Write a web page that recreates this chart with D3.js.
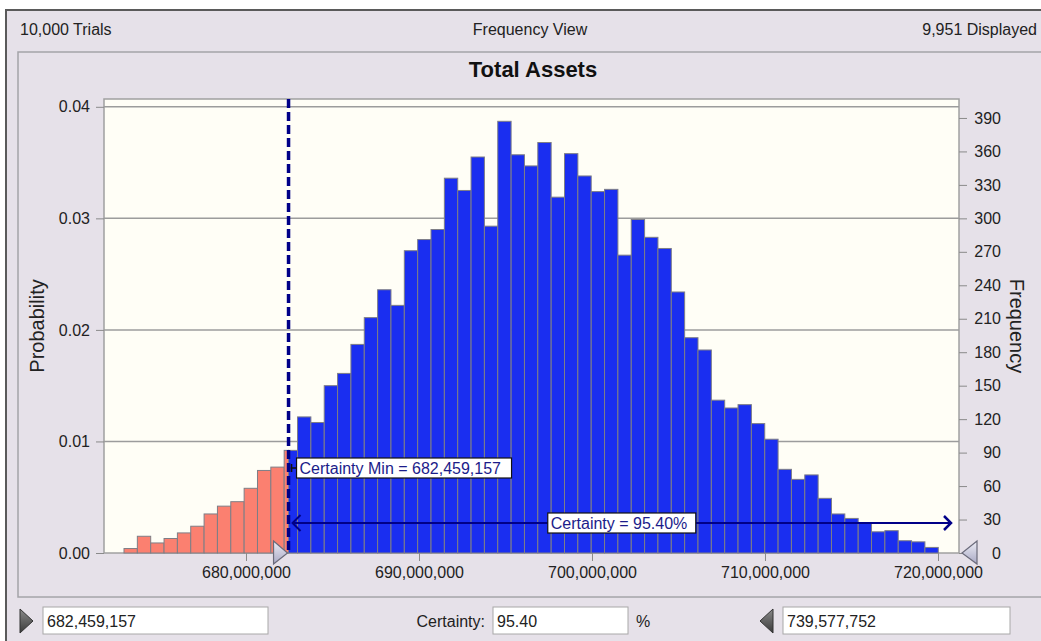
<!DOCTYPE html>
<html>
<head>
  <meta charset="utf-8">
  <title>Total Assets</title>
  <style>
    body { margin: 0; background: #fff; }
    svg { display: block; font-family: "Liberation Sans", Arial, sans-serif; }
    .tick text { font-size: 16px; fill: #222; }
    .tick line { stroke: #8a8a8a; }
    .lbl { font-size: 16px; fill: #222; }
  </style>
</head>
<body>
  <script src="https://d3js.org/d3.v7.min.js"></script>
  <script>
    // histogram: bin start, bin width, counts per bin
    const binStart = 672948000;
    const binWidth = 771600;
    const freqs = [4, 15, 9, 13, 18, 24, 35, 42, 46, 58, 74, 77,
      92, 122, 117, 150, 161, 187, 211, 236, 222, 271, 281, 290, 336, 325, 355, 293, 387, 357,
      347, 368, 319, 358, 338, 324, 326, 267, 299, 283, 273, 234, 193, 182, 137, 130, 133, 116,
      102, 75, 66, 70, 49, 35, 31, 27, 19, 20, 11, 10, 5];
    const xTicks = [680000000, 690000000, 700000000, 710000000, 720000000];
    const probTicks = [0, 0.01, 0.02, 0.03, 0.04];
    const freqTicks = [0, 30, 60, 90, 120, 150, 180, 210, 240, 270, 300, 330, 360, 390];
    const certaintyMin = 682459157;
    const certaintyMax = 739577752;
    const certainty = 95.40;
    const trials = 10000, displayed = 9951;

    const W = 1041, H = 641;
    const L = 104, R = 959, T = 99, B = 553;

    const svg = d3.select("body").append("svg").attr("width", W).attr("height", H);

    // window chrome
    svg.append("rect").attr("x", 6).attr("y", 10).attr("width", W).attr("height", H)
       .attr("fill", "#e6e1e9").attr("stroke", "#5a5a5a").attr("stroke-width", 2);
    svg.append("rect").attr("x", 18).attr("y", 52).attr("width", W).attr("height", 545)
       .attr("fill", "none").attr("stroke", "#a4a4a8").attr("stroke-width", 1.5);

    svg.append("text").attr("class", "lbl").attr("x", 20).attr("y", 35).text(d3.format(",")(trials) + " Trials");
    svg.append("text").attr("class", "lbl").attr("x", 530).attr("y", 35).attr("text-anchor", "middle").text("Frequency View");
    svg.append("text").attr("class", "lbl").attr("x", 1037).attr("y", 35).attr("text-anchor", "end").text(d3.format(",")(displayed) + " Displayed");

    svg.append("text").attr("x", 533).attr("y", 77).attr("text-anchor", "middle")
       .attr("font-size", 22).attr("font-weight", "bold").attr("fill", "#111").text("Total Assets");

    const x = d3.scaleLinear().domain([671792000, 721214000]).range([L, R]);
    const yP = d3.scaleLinear().domain([0, 0.0407]).range([B, T]);
    const yF = d3.scaleLinear().domain([0, 407]).range([B, T]);

    // plot area
    svg.append("rect").attr("x", L).attr("y", T).attr("width", R - L).attr("height", B - T)
       .attr("fill", "#fffef6").attr("stroke", "#a0a0a0").attr("stroke-width", 1.5);

    svg.append("g").selectAll("line").data(probTicks.filter(d => d > 0)).join("line")
       .attr("x1", L).attr("x2", R).attr("y1", d => yP(d)).attr("y2", d => yP(d))
       .attr("stroke", "#9c9c9c").attr("stroke-width", 1.5);

    // bars, split at certainty min
    const bins = freqs.map((f, i) => ({ x0: binStart + i * binWidth, x1: binStart + (i + 1) * binWidth, f }));
    const parts = [];
    bins.forEach(b => {
      if (b.x1 <= certaintyMin) parts.push({ a: b.x0, b: b.x1, f: b.f, red: true });
      else if (b.x0 >= certaintyMin) parts.push({ a: b.x0, b: b.x1, f: b.f, red: false });
      else {
        parts.push({ a: b.x0, b: certaintyMin, f: b.f, red: true });
        parts.push({ a: certaintyMin, b: b.x1, f: b.f, red: false });
      }
    });
    svg.append("g").selectAll("rect").data(parts).join("rect")
       .attr("x", d => x(d.a)).attr("width", d => x(d.b) - x(d.a))
       .attr("y", d => yF(d.f)).attr("height", d => B - yF(d.f))
       .attr("fill", d => d.red ? "#fb8070" : "#1a2ef0")
       .attr("stroke", "#7e7e86").attr("stroke-width", 1);

    // axes
    const gl = svg.append("g").attr("transform", `translate(${L},0)`)
       .call(d3.axisLeft(yP).tickValues(probTicks).tickFormat(d3.format(".2f")).tickSize(8).tickPadding(6));
    const gr = svg.append("g").attr("transform", `translate(${R},0)`)
       .call(d3.axisRight(yF).tickValues(freqTicks).tickSize(8).tickPadding(6));
    gr.selectAll(".tick text").attr("x", 42).attr("text-anchor", "end");
    const gb = svg.append("g").attr("transform", `translate(0,${B})`)
       .call(d3.axisBottom(x).tickValues(xTicks).tickFormat(d3.format(",")).tickSize(8).tickPadding(6));
    [gl, gr, gb].forEach(g => { g.select(".domain").remove(); g.attr("font-family", null).attr("font-size", null); });

    svg.append("text").attr("transform", "translate(44,326) rotate(-90)").attr("text-anchor", "middle")
       .attr("font-size", 20).attr("fill", "#222").text("Probability");
    svg.append("text").attr("transform", "translate(1010,326) rotate(90)").attr("text-anchor", "middle")
       .attr("font-size", 20).attr("fill", "#222").text("Frequency");

    // certainty markers
    const cx = x(certaintyMin);
    const navy = "#000088";
    svg.append("line").attr("x1", cx).attr("x2", cx).attr("y1", T).attr("y2", B)
       .attr("stroke", navy).attr("stroke-width", 3.5).attr("stroke-dasharray", "9,4");

    const ay = 523, ax0 = cx + 4, ax1 = R - 8;
    svg.append("line").attr("x1", ax0).attr("x2", ax1).attr("y1", ay).attr("y2", ay)
       .attr("stroke", navy).attr("stroke-width", 2);
    svg.append("path").attr("d", `M${ax0 + 8},${ay - 8}L${ax0},${ay}L${ax0 + 8},${ay + 8}`)
       .attr("fill", "none").attr("stroke", navy).attr("stroke-width", 2);
    svg.append("path").attr("d", `M${ax1 - 7},${ay - 7}L${ax1},${ay}L${ax1 - 7},${ay + 7}`)
       .attr("fill", "none").attr("stroke", navy).attr("stroke-width", 2.5);

    function tag(x0, yc, w, txt) {
      svg.append("rect").attr("x", x0).attr("y", yc - 10).attr("width", w).attr("height", 20)
         .attr("fill", "#fff").attr("stroke", "#111").attr("stroke-width", 1.2);
      svg.append("text").attr("x", x0 + 3).attr("y", yc + 6).attr("font-size", 16).attr("fill", "#1c1c8a").text(txt);
    }
    svg.append("path").attr("d", `M${cx + 2},${468}H${cx + 8}M${cx + 3},${464}V${472}`)
       .attr("stroke", "#111").attr("stroke-width", 1.5);
    tag(cx + 8, 468, 215, "Certainty Min = " + d3.format(",")(certaintyMin));
    tag((ax0 + ax1) / 2 - 74, ay, 148, "Certainty = " + certainty.toFixed(2) + "%");

    // grab handles
    const defs = svg.append("defs");
    const lg = defs.append("linearGradient").attr("id", "hnd").attr("x1", 0).attr("y1", 0).attr("x2", 0).attr("y2", 1);
    lg.append("stop").attr("offset", 0).attr("stop-color", "#eeeef6");
    lg.append("stop").attr("offset", 1).attr("stop-color", "#a8a8c4");
    const dg = defs.append("linearGradient").attr("id", "dk").attr("x1", 0).attr("y1", 0).attr("x2", 0).attr("y2", 1);
    dg.append("stop").attr("offset", 0).attr("stop-color", "#8a8a8a");
    dg.append("stop").attr("offset", 1).attr("stop-color", "#3a3a3a");

    svg.append("path").attr("d", `M${cx - 15},${B - 12}L${cx - 1},${B}L${cx - 15},${B + 11}Z`)
       .attr("fill", "url(#hnd)").attr("stroke", "#6a6a7a").attr("stroke-width", 1.2);
    svg.append("path").attr("d", `M${R + 18},${B - 12}L${R + 3},${B}L${R + 18},${B + 11}Z`)
       .attr("fill", "url(#hnd)").attr("stroke", "#6a6a7a").attr("stroke-width", 1.2);

    // bottom controls
    svg.append("path").attr("d", "M20,609L33,621L20,633Z").attr("fill", "url(#dk)").attr("stroke", "#333");
    svg.append("path").attr("d", "M773,609L760,621L773,633Z").attr("fill", "url(#dk)").attr("stroke", "#333");
    const boxes = [
      { x: 43, w: 225, t: d3.format(",")(certaintyMin) },
      { x: 493, w: 135, t: certainty.toFixed(2) },
      { x: 783, w: 227, t: d3.format(",")(certaintyMax) }
    ];
    svg.append("g").selectAll("rect").data(boxes).join("rect")
       .attr("x", d => d.x).attr("y", 607).attr("width", d => d.w).attr("height", 27)
       .attr("fill", "#fff").attr("stroke", "#a8a8a8");
    svg.append("g").selectAll("text").data(boxes).join("text").attr("class", "lbl")
       .attr("x", d => d.x + 4).attr("y", 627).text(d => d.t);
    svg.append("text").attr("class", "lbl").attr("x", 485).attr("y", 627).attr("text-anchor", "end").text("Certainty:");
    svg.append("text").attr("class", "lbl").attr("x", 636).attr("y", 627).text("%");
  </script>
</body>
</html>
